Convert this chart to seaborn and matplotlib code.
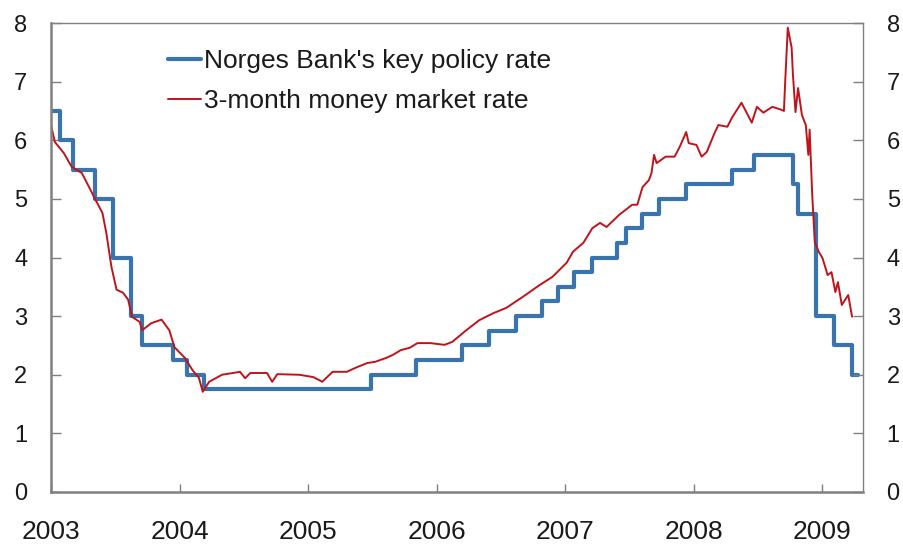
import matplotlib
matplotlib.use("Agg")
import matplotlib.pyplot as plt
import seaborn as sns
import pandas as pd

# Norges Bank's key policy rate (step changes, decimal years)
policy_dates = [2003.00, 2003.07, 2003.17, 2003.34, 2003.48, 2003.62, 2003.71, 2003.95,
                2004.06, 2004.19, 2005.49, 2005.84, 2006.20, 2006.41, 2006.62, 2006.82,
                2006.94, 2007.07, 2007.21, 2007.40, 2007.47, 2007.60, 2007.73, 2007.94,
                2008.30, 2008.47, 2008.77, 2008.81, 2008.95, 2009.09, 2009.23, 2009.28]
policy_rate = [6.5, 6.0, 5.5, 5.0, 4.0, 3.0, 2.5, 2.25,
               2.0, 1.75, 2.0, 2.25, 2.5, 2.75, 3.0, 3.25,
               3.5, 3.75, 4.0, 4.25, 4.5, 4.75, 5.0, 5.25,
               5.5, 5.75, 5.25, 4.75, 3.0, 2.5, 2.0, 2.0]

# 3-month money market rate
mm_dates = [2003.00, 2003.03, 2003.10, 2003.16, 2003.24, 2003.28, 2003.34, 2003.40, 2003.43,
            2003.47, 2003.51, 2003.56, 2003.60, 2003.63, 2003.69, 2003.71, 2003.78, 2003.86,
            2003.92, 2003.96, 2004.04, 2004.10, 2004.15, 2004.18, 2004.23, 2004.33, 2004.47,
            2004.51, 2004.55, 2004.68, 2004.72, 2004.76, 2004.93, 2005.04, 2005.11, 2005.19,
            2005.30, 2005.38, 2005.46, 2005.52, 2005.61, 2005.66, 2005.72, 2005.79, 2005.85,
            2005.95, 2006.06, 2006.12, 2006.23, 2006.33, 2006.44, 2006.54, 2006.67, 2006.80,
            2006.90, 2007.01, 2007.06, 2007.14, 2007.21, 2007.27, 2007.32, 2007.42, 2007.52,
            2007.56, 2007.60, 2007.65, 2007.67, 2007.69, 2007.71, 2007.78, 2007.85, 2007.89,
            2007.94, 2007.96, 2008.02, 2008.06, 2008.10, 2008.16, 2008.19, 2008.26, 2008.30,
            2008.37, 2008.41, 2008.45, 2008.49, 2008.54, 2008.61, 2008.68, 2008.70, 2008.71,
            2008.73, 2008.76, 2008.77, 2008.79, 2008.81, 2008.84, 2008.87, 2008.89, 2008.90,
            2008.92, 2008.94, 2008.97, 2009.00, 2009.04, 2009.07, 2009.10, 2009.12, 2009.15,
            2009.20, 2009.23]
mm_rate = [6.26, 5.97, 5.78, 5.55, 5.44, 5.27, 5.01, 4.76, 4.42,
           3.84, 3.45, 3.40, 3.28, 2.99, 2.90, 2.76, 2.88, 2.94,
           2.76, 2.47, 2.29, 2.08, 1.95, 1.71, 1.88, 2.00, 2.05,
           1.94, 2.03, 2.03, 1.88, 2.01, 2.00, 1.96, 1.88, 2.05,
           2.05, 2.13, 2.20, 2.22, 2.29, 2.34, 2.42, 2.46, 2.54,
           2.54, 2.51, 2.56, 2.76, 2.93, 3.05, 3.14, 3.33, 3.53,
           3.67, 3.91, 4.10, 4.25, 4.50, 4.59, 4.52, 4.73, 4.90,
           4.90, 5.20, 5.32, 5.44, 5.75, 5.61, 5.72, 5.72, 5.89,
           6.14, 5.95, 5.92, 5.72, 5.80, 6.12, 6.26, 6.23, 6.40,
           6.64, 6.47, 6.30, 6.57, 6.47, 6.57, 6.52, 6.50, 7.00,
           7.92, 7.58, 7.12, 6.48, 6.89, 6.43, 6.26, 5.75, 6.18,
           5.07, 4.27, 4.10, 3.99, 3.70, 3.75, 3.41, 3.58, 3.19,
           3.36, 2.99]

x_ticks = [2003, 2004, 2005, 2006, 2007, 2008, 2009]
y_ticks = [0, 1, 2, 3, 4, 5, 6, 7, 8]

label_policy = "Norges Bank's key policy rate"
label_mm = "3-month money market rate"

sns.set_style("white")
plt.rcParams['font.family'] = ['Liberation Sans', 'DejaVu Sans']

BLUE = "#3A74AE"
RED = "#C0141C"
GREY = "#808080"

df_policy = pd.DataFrame({"date": policy_dates, "rate": policy_rate})
df_mm = pd.DataFrame({"date": mm_dates, "rate": mm_rate})

fig = plt.figure(figsize=(9.04, 5.47), dpi=100)
ax = fig.add_axes([51 / 904, 1 - 492 / 547, (863 - 51) / 904, (492 - 23) / 547])

sns.lineplot(data=df_policy, x="date", y="rate", ax=ax, color=BLUE, linewidth=3.0,
             drawstyle="steps-post", label=label_policy, estimator=None, sort=False)
sns.lineplot(data=df_mm, x="date", y="rate", ax=ax, color=RED, linewidth=1.4,
             label=label_mm, estimator=None, sort=False)

ax.set_xlim(2003.0, 2009.315)
ax.set_ylim(0, 8)
ax.set_xlabel("")
ax.set_ylabel("")
ax.set_xticks(x_ticks)
ax.set_xticklabels([str(t) for t in x_ticks])
ax.set_yticks(y_ticks)
ax.set_yticklabels([str(t) for t in y_ticks])

for side in ["left", "bottom"]:
    ax.spines[side].set_color(GREY)
    ax.spines[side].set_linewidth(1.8)
for side in ["top", "right"]:
    ax.spines[side].set_visible(True)
    ax.spines[side].set_color(GREY)
    ax.spines[side].set_linewidth(1.0)

ax.tick_params(axis="x", direction="in", length=6, width=1.0, color=GREY,
               labelsize=19, pad=20, labelcolor="#1a1a1a", bottom=True, top=False)
ax.tick_params(axis="y", direction="in", length=7, width=1.0, color=GREY,
               labelsize=17, pad=17, labelcolor="#1a1a1a", left=True)

ax2 = ax.twinx()
ax2.set_ylim(0, 8)
ax2.set_yticks(y_ticks)
ax2.set_yticklabels([str(t) for t in y_ticks])
ax2.tick_params(axis="y", direction="in", length=7, width=1.0, color=GREY,
                labelsize=17, pad=17, labelcolor="#1a1a1a", right=True)
for s in ax2.spines.values():
    s.set_visible(False)

leg = ax.legend(loc="upper left", bbox_to_anchor=(168 / 904, 1 - 49 / 547),
                bbox_transform=fig.transFigure, frameon=False, fontsize=19,
                handlelength=1.25, handletextpad=0.1, labelspacing=0.6,
                borderpad=0, borderaxespad=0)
for t in leg.get_texts():
    t.set_color("#1a1a1a")

fig.savefig("out.png", dpi=100)
